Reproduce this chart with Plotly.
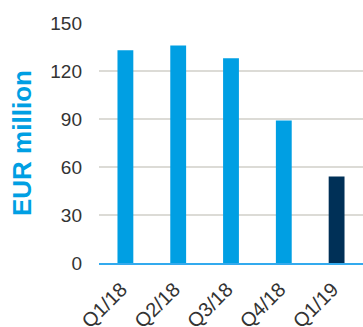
import plotly.graph_objects as go

categories = ["Q1/18", "Q2/18", "Q3/18", "Q4/18", "Q1/19"]
values = [133, 136, 128, 89, 54]
colors = ["#009fe3", "#009fe3", "#009fe3", "#009fe3", "#003057"]
y_ticks = [0, 30, 60, 90, 120, 150]

fig = go.Figure(go.Bar(x=categories, y=values, marker=dict(color=colors, line=dict(width=0))))

fig.update_layout(
    width=363, height=327,
    margin=dict(l=99, r=0, t=23, b=64),
    plot_bgcolor="white", paper_bgcolor="white",
    bargap=0.7,
    showlegend=False,
    font=dict(family="Liberation Sans, Arial, sans-serif", size=19, color="#333333"),
    annotations=[dict(
        text="<b>EUR million</b>", textangle=-90, xref="paper", yref="paper",
        x=0, y=0.5, xanchor="center", yanchor="middle", xshift=-77, showarrow=False,
        font=dict(size=26, color="#009fe3", family="Liberation Sans, Arial, sans-serif"),
    )],
)
fig.update_yaxes(
    range=[0, 150], tickvals=y_ticks, showgrid=True, gridcolor="#dcdbd6", gridwidth=1.5,
    zeroline=False, showline=False, ticklabelstandoff=16, fixedrange=True, automargin=False,
)
fig.update_xaxes(
    tickangle=-45, showline=True, linecolor="#33aaee", linewidth=1.5,
    showgrid=False, ticklabelstandoff=5, ticklabelshift=-4, automargin=False,
    tickfont=dict(size=20),
)
fig.write_html("out.html")
